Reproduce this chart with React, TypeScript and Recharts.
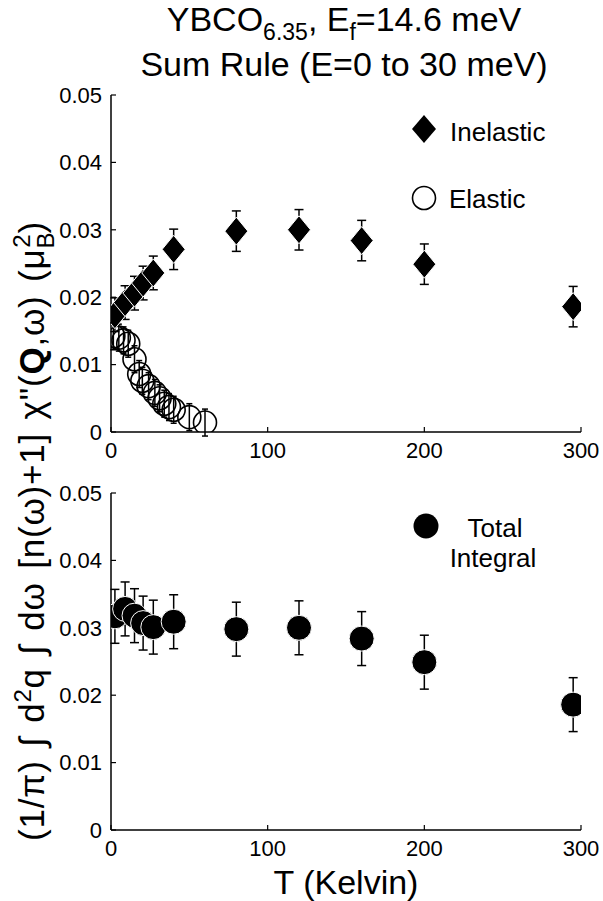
import React from 'react';
import { ScatterChart, Scatter, XAxis, YAxis, ErrorBar } from 'recharts';

// ---- data ----
const inelasticT = [2.5, 9, 15, 20.5, 27, 40, 80, 120, 160, 200, 295];
const inelasticV = [0.0174, 0.0192, 0.0206, 0.0221, 0.0236, 0.0271, 0.0298, 0.03, 0.0284, 0.0249, 0.0186];
const inelasticErr = [0.0025, 0.0025, 0.0025, 0.0025, 0.0025, 0.003, 0.003, 0.003, 0.003, 0.003, 0.003];

const elasticT = [1.5, 5, 8, 11, 15, 18, 20, 24, 28, 31, 34, 37, 40, 50, 60];
const elasticV = [0.0142, 0.014, 0.0136, 0.0131, 0.0108, 0.0086, 0.0076, 0.0068, 0.0058, 0.005, 0.0042, 0.0037, 0.0033, 0.0022, 0.0014];
const elasticErr = [0.002, 0.002, 0.002, 0.002, 0.002, 0.002, 0.002, 0.002, 0.002, 0.002, 0.002, 0.002, 0.002, 0.002, 0.002];

const totalT = [2.5, 9, 15, 20.5, 27, 40, 80, 120, 160, 200, 295];
const totalV = [0.0317, 0.0328, 0.0318, 0.0307, 0.0301, 0.0309, 0.0298, 0.03, 0.0284, 0.0249, 0.0186];
const totalErr = [0.004, 0.004, 0.004, 0.004, 0.004, 0.004, 0.004, 0.004, 0.004, 0.004, 0.004];

const xTicks = [0, 100, 200, 300];
const yTicks = [0, 0.01, 0.02, 0.03, 0.04, 0.05];

const rows = (t: number[], v: number[], e: number[]) => t.map((x, i) => ({ x, y: v[i], err: e[i] }));
const inelasticData = rows(inelasticT, inelasticV, inelasticErr);
const elasticData = rows(elasticT, elasticV, elasticErr);
const totalData = rows(totalT, totalV, totalErr);

const FONT = '"Liberation Sans", Arial, Helvetica, sans-serif';

const Diamond = (p: any) => {
  const { cx, cy } = p;
  return (
    <polygon
      points={`${cx},${cy - 14} ${cx + 11.5},${cy} ${cx},${cy + 14} ${cx - 11.5},${cy}`}
      fill="#000"
      stroke="#fff"
      strokeWidth={1}
    />
  );
};
const OpenCircle = (p: any) => <circle cx={p.cx} cy={p.cy} r={11.5} fill="none" stroke="#000" strokeWidth={1.6} />;
const FilledCircle = (p: any) => <circle cx={p.cx} cy={p.cy} r={12.5} fill="#000" stroke="#fff" strokeWidth={1} />;

const axisLine = { stroke: '#000', strokeWidth: 1.5 };
const tickLine = { stroke: '#000', strokeWidth: 1.2 };
const tickStyle = { fontSize: 22, fill: '#000', fontFamily: FONT };

function renderAxes() {
  return [
    <XAxis key="xb" xAxisId="b" type="number" dataKey="x" domain={[0, 300]} ticks={xTicks} interval={0}
      allowDataOverflow tickSize={-5} tickMargin={15} height={30} axisLine={axisLine} tickLine={tickLine} tick={tickStyle} />,
    <XAxis key="xt" xAxisId="t" orientation="top" type="number" dataKey="x" domain={[0, 300]} ticks={xTicks} interval={0}
      allowDataOverflow tickSize={-5} height={0} axisLine={axisLine} tickLine={tickLine} tick={false} />,
    <YAxis key="yl" yAxisId="l" type="number" dataKey="y" domain={[0, 0.05]} ticks={yTicks} interval={0}
      allowDataOverflow tickSize={-5} tickMargin={14} width={60} axisLine={axisLine} tickLine={tickLine} tick={tickStyle} />,
    <YAxis key="yr" yAxisId="r" orientation="right" type="number" dataKey="y" domain={[0, 0.05]} ticks={yTicks} interval={0}
      allowDataOverflow tickSize={-5} width={0} axisLine={axisLine} tickLine={tickLine} tick={false} />,
  ];
}

export default function App() {
  return (
    <div style={{ position: 'absolute', left: 0, top: 0, width: 603, height: 901, background: '#fff', fontFamily: FONT }}>
      <div style={{ position: 'absolute', left: 0, top: 0 }}>
        <ScatterChart width={603} height={470} margin={{ top: 95, right: 22, left: 51, bottom: 8 }}>
          {renderAxes()}
          <Scatter xAxisId="b" yAxisId="l" data={elasticData} shape={OpenCircle} isAnimationActive={false}>
            <ErrorBar dataKey="err" direction="y" width={3} stroke="#000" strokeWidth={1.5} />
          </Scatter>
          <Scatter xAxisId="b" yAxisId="l" data={inelasticData} shape={Diamond} isAnimationActive={false}>
            <ErrorBar dataKey="err" direction="y" width={4.5} stroke="#000" strokeWidth={1.5} />
          </Scatter>
        </ScatterChart>
      </div>
      <div style={{ position: 'absolute', left: 0, top: 470 }}>
        <ScatterChart width={603} height={431} margin={{ top: 23, right: 22, left: 51, bottom: 41 }}>
          {renderAxes()}
          <Scatter xAxisId="b" yAxisId="l" data={totalData} shape={FilledCircle} isAnimationActive={false}>
            <ErrorBar dataKey="err" direction="y" width={4.5} stroke="#000" strokeWidth={1.5} />
          </Scatter>
        </ScatterChart>
      </div>
      <svg width={603} height={901} style={{ position: 'absolute', left: 0, top: 0, pointerEvents: 'none' }} fontFamily={FONT}>
        {/* title */}
        <text x={344} y={31} textAnchor="middle" fontSize={34} fill="#000">
          YBCO<tspan fontSize={23} dy={9}>6.35</tspan><tspan dy={-9}>, E</tspan><tspan fontSize={23} dy={9}>f</tspan><tspan dy={-9}>=14.6 meV</tspan>
        </text>
        <text x={344} y={76} textAnchor="middle" fontSize={34} fill="#000">Sum Rule (E=0 to 30 meV)</text>
        {/* y label */}
        <text transform="translate(44, 531) rotate(-90)" textAnchor="middle" fontSize={35} letterSpacing={0.8} wordSpacing={3} fill="#000">
          (1/π) ∫ d<tspan fontSize={24} dy={-13}>2</tspan><tspan dy={13}>q ∫ dω [n(ω)+1] χ"(</tspan><tspan fontWeight="bold">Q</tspan><tspan>,ω) (μ</tspan><tspan fontSize={24} dy={10}>B</tspan><tspan fontSize={24} dx={-16} dy={-24}>2</tspan><tspan dy={14}>)</tspan>
        </text>
        {/* x label */}
        <text x={346} y={894} textAnchor="middle" fontSize={34} fill="#000">T (Kelvin)</text>
        {/* legends */}
        <polygon points="424,115 436,129 424,143 412,129" fill="#000" />
        <text x={450} y={141} fontSize={26} fill="#000">Inelastic</text>
        <circle cx={424} cy={198} r={11.5} fill="none" stroke="#000" strokeWidth={1.6} />
        <text x={449} y={208} fontSize={26} fill="#000">Elastic</text>
        <circle cx={426} cy={526} r={12.5} fill="#000" />
        <text x={495} y={537} textAnchor="middle" fontSize={26} fill="#000">Total</text>
        <text x={493} y={567} textAnchor="middle" fontSize={26} fill="#000">Integral</text>
      </svg>
    </div>
  );
}
